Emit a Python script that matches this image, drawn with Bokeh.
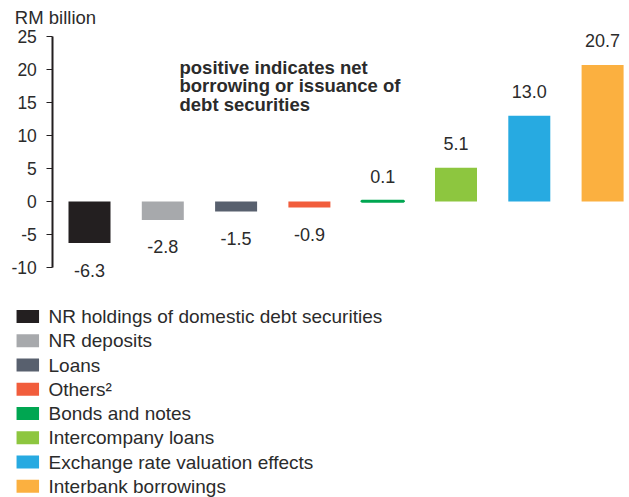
from bokeh.plotting import figure
from bokeh.models import (ColumnDataSource, LabelSet, Label, Range1d, FixedTicker, LinearAxis)
from bokeh.core.properties import value
from bokeh.embed import file_html
from bokeh.resources import INLINE

categories = ["NR holdings of domestic debt securities", "NR deposits", "Loans", "Others\u00b2",
              "Bonds and notes", "Intercompany loans", "Exchange rate valuation effects",
              "Interbank borrowings"]
values = [-6.3, -2.8, -1.5, -0.9, 0.1, 5.1, 13.0, 20.7]
colors = ["#231f20", "#a7a9ac", "#58606e", "#f15d3c", "#00a651", "#8dc63f", "#27aae1", "#fbb040"]
y_ticks = [-10, -5, 0, 5, 10, 15, 20, 25]
y_tick_labels = {t: str(t) for t in y_ticks}

FONT = "Liberation Sans"
TXT = "#2b2b2b"

W, H = 629, 497
# layout (pixels): category spacing, first bar centre, zero line, pixels per unit
SP, X_FIRST, Y_ZERO, PPU = 73.3, 89.0, 201.0, 6.6


def px2x(px):
    return (px - X_FIRST) / SP


def px2y(py):
    return (Y_ZERO - py) / PPU


p = figure(width=W, height=H, output_backend="svg", toolbar_location=None,
           x_axis_location=None, y_axis_location=None,
           x_range=Range1d(px2x(0), px2x(W)), y_range=Range1d(px2y(H), px2y(0)),
           min_border_left=0, min_border_right=0, min_border_top=0, min_border_bottom=0)
p.outline_line_color = None
p.xgrid.visible = False
p.ygrid.visible = False

xs = list(range(len(values)))
labels = [f"{v:.1f}" for v in values]
src = ColumnDataSource(dict(x=xs, top=values, label=labels,
                            off=[24 if v >= 0 else -27 for v in values]))

for i in xs:
    s = ColumnDataSource(dict(x=[xs[i]], top=[values[i]]))
    thin = abs(values[i]) < 0.5
    p.vbar(x="x", top="top", bottom=0, width=0.573, source=s, fill_color=colors[i],
           line_color=colors[i] if thin else None, line_width=2.4 if thin else 1)

p.add_layout(LabelSet(x="x", y="top", text="label", y_offset="off", source=src,
                      text_align="center", text_baseline="middle", text_font=value(FONT),
                      text_font_size="18px", text_color=TXT))

yax = LinearAxis(fixed_location=-0.5)
yax.ticker = FixedTicker(ticks=y_ticks)
yax.bounds = (y_ticks[0], y_ticks[-1])
yax.major_label_overrides = y_tick_labels
yax.axis_line_width = 2
yax.axis_line_color = "#231f20"
yax.major_tick_line_color = "#231f20"
yax.major_tick_in = 0
yax.major_tick_out = 6
yax.minor_tick_line_color = None
yax.major_label_standoff = 10
yax.major_label_text_font = FONT
yax.major_label_text_font_size = "17.5px"
yax.major_label_text_color = TXT
p.add_layout(yax, "left")

p.add_layout(Label(x=-0.5, y=y_ticks[-1], x_offset=-38, y_offset=19, text="RM billion",
                   text_font=FONT, text_font_size="18.5px", text_color=TXT,
                   text_baseline="middle"))

p.add_layout(Label(x=px2x(179), y=px2y(56.5),
                   text="positive indicates net\nborrowing or issuance of\ndebt securities",
                   text_font=FONT, text_font_size="18.5px", text_font_style="bold", text_color=TXT,
                   text_baseline="top", text_line_height=0.88))

# legend drawn from the category / colour arrays
rows_y = [px2y(316 + 24.25 * i) for i in xs]
leg = ColumnDataSource(dict(y=rows_y, cat=categories, color=colors))
p.rect(x=px2x(27.3), y="y", width=22.5, height=13, width_units="screen", height_units="screen",
       fill_color="color", line_color=None, source=leg)
p.text(x=px2x(48), y="y", text="cat", source=leg, text_font=value(FONT), text_font_size="19px",
       text_color=TXT, text_baseline="middle", text_align="left")

open("out.html", "w").write(file_html(p, INLINE))
